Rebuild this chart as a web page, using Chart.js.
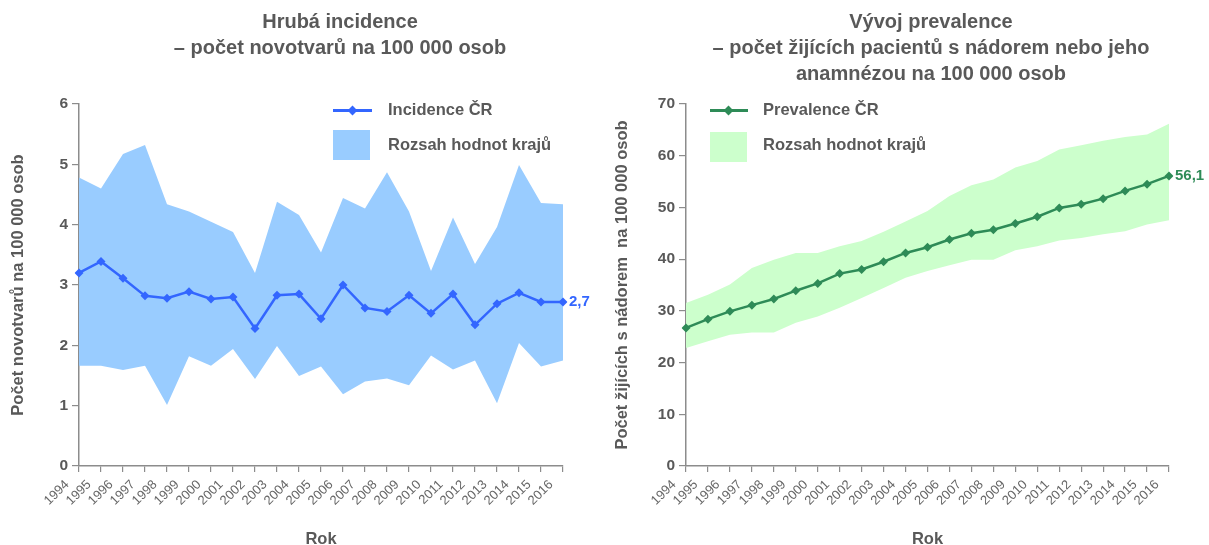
<!DOCTYPE html>
<html>
<head>
<meta charset="utf-8">
<script src="https://cdn.jsdelivr.net/npm/chart.js@4"></script>
<style>
  html, body { margin: 0; padding: 0; background: #ffffff; }
  body { width: 1209px; height: 545px; position: relative; overflow: hidden; font-family: "Liberation Sans", Arial, sans-serif; }
  .box { position: absolute; top: 0; height: 545px; }
  .title { position: absolute; text-align: center; font-weight: bold; font-size: 20px; line-height: 26px; color: #595959; white-space: nowrap; }
  .leg { position: absolute; font-weight: bold; font-size: 16.5px; color: #595959; white-space: nowrap; }
  .legline { position: absolute; height: 3px; }
  .legdia { position: absolute; width: 7px; height: 7px; transform: rotate(45deg); }
  .legsq { position: absolute; }
</style>
</head>
<body>
<div class="box" style="left:0;width:600px;"><canvas id="c1" width="600" height="545"></canvas></div>
<div class="box" style="left:600px;width:609px;"><canvas id="c2" width="609" height="545"></canvas></div>

<div class="title" style="left:140px;width:400px;top:8px;">Hrubá incidence<br>– počet novotvarů na 100 000 osob</div>
<div class="title" style="left:700px;width:462px;top:8px;">Vývoj prevalence<br>– počet žijících pacientů s nádorem nebo jeho<br>anamnézou na 100 000 osob</div>

<!-- legend left -->
<div class="legline" style="left:333px;top:109px;width:39px;background:#3366ff;"></div>
<div class="legdia" style="left:349px;top:107px;background:#3366ff;"></div>
<div class="leg" style="left:388px;top:100px;">Incidence ČR</div>
<div class="legsq" style="left:333px;top:130px;width:37px;height:30px;background:#99ccff;"></div>
<div class="leg" style="left:388px;top:135px;">Rozsah hodnot krajů</div>

<!-- legend right -->
<div class="legline" style="left:710px;top:109px;width:38px;background:#2e8b57;"></div>
<div class="legdia" style="left:725px;top:107px;background:#2e8b57;"></div>
<div class="leg" style="left:763px;top:100px;">Prevalence ČR</div>
<div class="legsq" style="left:710px;top:132px;width:37px;height:30px;background:#ccffcc;"></div>
<div class="leg" style="left:763px;top:135px;">Rozsah hodnot krajů</div>

<script>
const years = ['1994','1995','1996','1997','1998','1999','2000','2001','2002','2003','2004','2005','2006','2007','2008','2009','2010','2011','2012','2013','2014','2015','2016'];

const incidenceCR  = [3.20, 3.39, 3.11, 2.82, 2.78, 2.89, 2.77, 2.80, 2.28, 2.83, 2.85, 2.44, 3.00, 2.62, 2.56, 2.83, 2.53, 2.85, 2.34, 2.69, 2.87, 2.72, 2.72];
const incidenceMax = [4.78, 4.60, 5.17, 5.32, 4.34, 4.22, 4.05, 3.88, 3.20, 4.38, 4.16, 3.54, 4.44, 4.27, 4.87, 4.22, 3.23, 4.12, 3.35, 3.96, 4.99, 4.36, 4.34];
const incidenceMin = [1.66, 1.66, 1.59, 1.66, 1.01, 1.82, 1.66, 1.94, 1.44, 1.99, 1.49, 1.65, 1.19, 1.40, 1.45, 1.34, 1.83, 1.60, 1.75, 1.04, 2.04, 1.65, 1.75];

const prevalenceCR  = [26.7, 28.4, 29.9, 31.1, 32.3, 33.9, 35.3, 37.2, 38.0, 39.5, 41.2, 42.3, 43.8, 45.0, 45.7, 46.9, 48.2, 49.9, 50.6, 51.7, 53.2, 54.5, 56.1];
const prevalenceMax = [31.5, 33.1, 35.1, 38.3, 39.9, 41.2, 41.2, 42.5, 43.5, 45.3, 47.3, 49.3, 52.2, 54.3, 55.4, 57.7, 59.0, 61.2, 62.0, 62.9, 63.6, 64.1, 66.2];
const prevalenceMin = [22.8, 24.1, 25.4, 25.8, 25.8, 27.7, 28.9, 30.6, 32.5, 34.4, 36.4, 37.7, 38.8, 39.9, 39.9, 41.7, 42.5, 43.6, 44.1, 44.8, 45.4, 46.7, 47.5];

const incidenceTicks = [0, 1, 2, 3, 4, 5, 6];
const prevalenceTicks = [0, 10, 20, 30, 40, 50, 60, 70];

const GREY = '#595959';
const AXIS = '#8c8c8c';
const FAM = '"Liberation Sans", Arial, sans-serif';

const endLabel = {
  id: 'endLabel',
  afterDatasetsDraw(chart, args, opts) {
    const ds = chart.data.datasets[0];
    const meta = chart.getDatasetMeta(0);
    const p = meta.data[meta.data.length - 1];
    const v = ds.data[ds.data.length - 1];
    const ctx = chart.ctx;
    ctx.save();
    ctx.font = 'bold 15px ' + FAM;
    ctx.fillStyle = opts.color;
    ctx.textAlign = 'left';
    ctx.textBaseline = 'middle';
    ctx.fillText(v.toFixed(1).replace('.', ','), p.x + 6, p.y);
    ctx.restore();
  }
};

function makeChart(id, cr, mn, mx, ticks, lineColor, bandColor, yTitle, leftW, rightPad, crLabel, yTitlePad) {
  const yMax = ticks[ticks.length - 1];
  const step = ticks[1] - ticks[0];
  return new Chart(document.getElementById(id), {
    type: 'line',
    data: {
      labels: years,
      datasets: [
        { label: crLabel, data: cr, borderColor: lineColor, backgroundColor: lineColor,
          borderWidth: 2.5, pointStyle: 'rectRot', pointRadius: 4.5, pointBorderWidth: 0,
          fill: false, tension: 0, order: 0 },
        { label: 'min', data: mn, borderWidth: 0, borderColor: 'rgba(0,0,0,0)', pointRadius: 0,
          fill: false, order: 2 },
        { label: 'Rozsah hodnot krajů', data: mx, borderWidth: 0, borderColor: 'rgba(0,0,0,0)', pointRadius: 0,
          fill: '-1', backgroundColor: bandColor, order: 1 }
      ]
    },
    options: {
      responsive: false,
      animation: false,
      layout: { padding: { top: 104, right: rightPad, left: 0, bottom: 0 } },
      plugins: {
        legend: { display: false },
        tooltip: { enabled: false },
        endLabel: { color: lineColor }
      },
      scales: {
        x: {
          grid: { display: true, drawOnChartArea: false, drawTicks: true, tickLength: 6, color: AXIS, lineWidth: 1.2 },
          border: { display: true, color: AXIS, width: 1.5 },
          ticks: { autoSkip: false, minRotation: 45, maxRotation: 45, color: '#666', padding: 5, labelOffset: -12,
                   font: { size: 13, family: FAM } },
          title: { display: true, text: 'Rok', color: GREY, padding: { top: 0, bottom: -4 },
                   font: { size: 16.5, weight: 'bold', family: FAM } },
          afterFit(scale) { scale.height = 79; }
        },
        y: {
          min: 0, max: yMax,
          afterBuildTicks(scale) { scale.ticks = ticks.map(v => ({ value: v })); },
          grid: { display: true, drawOnChartArea: false, drawTicks: true, tickLength: 7, color: AXIS, lineWidth: 1.2 },
          border: { display: true, color: AXIS, width: 1.5 },
          ticks: { stepSize: step, color: GREY, padding: 4,
                   font: { size: 15.5, weight: 'bold', family: FAM } },
          title: { display: true, text: yTitle, color: GREY, padding: { top: yTitlePad, bottom: 0 },
                   font: { size: 16.5, weight: 'bold', family: FAM } },
          afterFit(scale) { scale.width = leftW; }
        }
      }
    },
    plugins: [endLabel]
  });
}

makeChart('c1', incidenceCR, incidenceMin, incidenceMax, incidenceTicks, '#3366ff', '#99ccff',
  'Počet novotvarů na 100 000 osob', 79, 37, 'Incidence ČR', 9);
makeChart('c2', prevalenceCR, prevalenceMin, prevalenceMax, prevalenceTicks, '#2e8b57', '#ccffcc',
  'Počet žijících s nádorem  na 100 000 osob', 86, 40, 'Prevalence ČR', 13);
</script>
</body>
</html>
